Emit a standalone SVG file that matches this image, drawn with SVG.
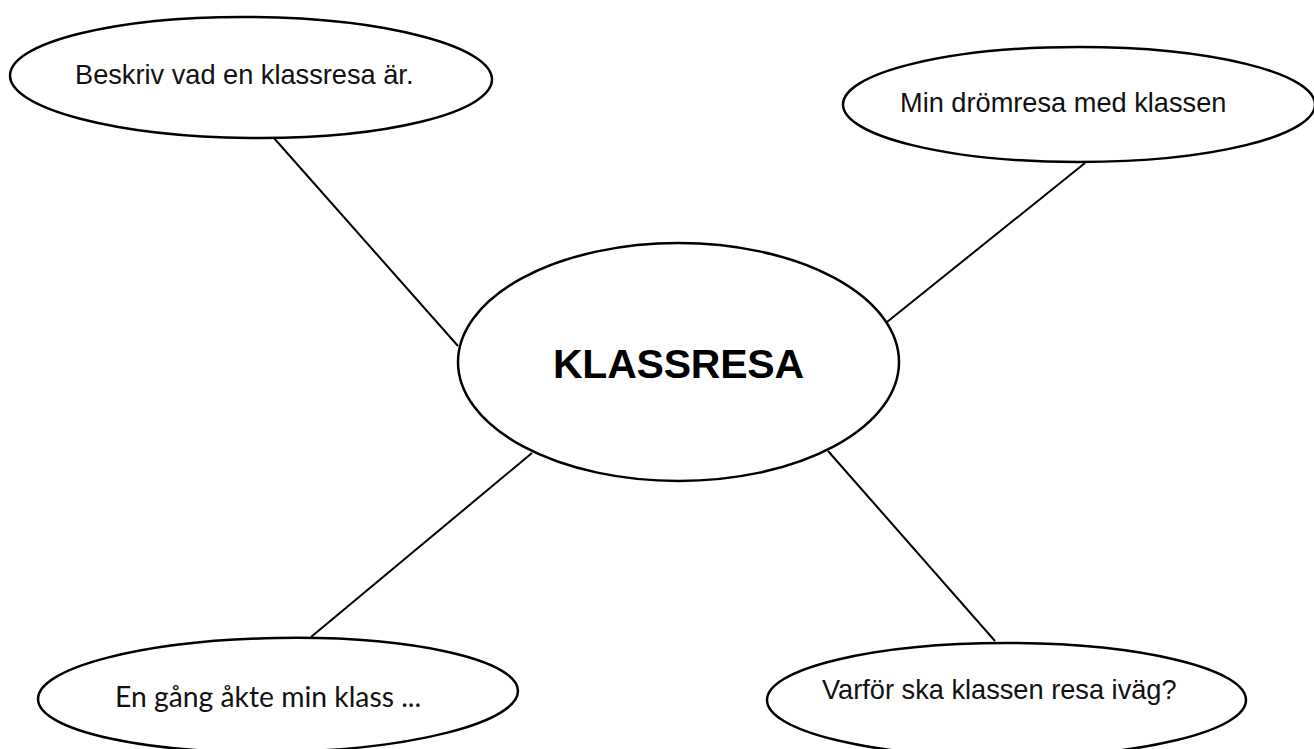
<svg xmlns="http://www.w3.org/2000/svg" width="1314" height="749" viewBox="0 0 1314 749">
  <style>
    .node ellipse { fill: #ffffff; stroke: #000000; stroke-width: 2.5; }
    .conn line { stroke: #000000; stroke-width: 2; }
    .lbl { font-family: "Liberation Sans", Arial, sans-serif; font-size: 27.2px; fill: #111111; }
    .lbl2 { font-family: Lato, "Liberation Sans", sans-serif; font-size: 28.3px; fill: #111111; }
    .title { font-family: "Liberation Sans", Arial, sans-serif; font-size: 41px; font-weight: bold; fill: #000000; }
  </style>
  <rect width="1314" height="749" fill="#ffffff"/>
  <g id="connectors" class="conn">
    <line x1="273" y1="137" x2="458" y2="346"/>
    <line x1="1085" y1="163" x2="887" y2="322"/>
    <line x1="532" y1="453" x2="311" y2="637"/>
    <line x1="828" y1="451" x2="995" y2="641"/>
  </g>
  <g id="center" class="node">
    <ellipse cx="678.5" cy="362" rx="220.5" ry="119"/>
    <text class="title" x="553" y="378" textLength="251">KLASSRESA</text>
  </g>
  <g id="top-left" class="node">
    <ellipse cx="251" cy="77.5" rx="241" ry="60.5" transform="rotate(0.5 251 77.5)"/>
    <text class="lbl" x="75" y="84">Beskriv vad en klassresa är.</text>
  </g>
  <g id="top-right" class="node">
    <ellipse cx="1079" cy="104.5" rx="236" ry="57.5"/>
    <text class="lbl" x="900" y="112">Min drömresa med klassen</text>
  </g>
  <g id="bottom-left" class="node">
    <ellipse cx="278" cy="695" rx="240" ry="57" transform="rotate(-1 278 695)"/>
    <text class="lbl2" x="115" y="707">En gång åkte min klass ...</text>
  </g>
  <g id="bottom-right" class="node">
    <ellipse cx="1006.5" cy="700" rx="239.5" ry="57"/>
    <text class="lbl" x="822" y="699">Varför ska klassen resa iväg?</text>
  </g>
</svg>
